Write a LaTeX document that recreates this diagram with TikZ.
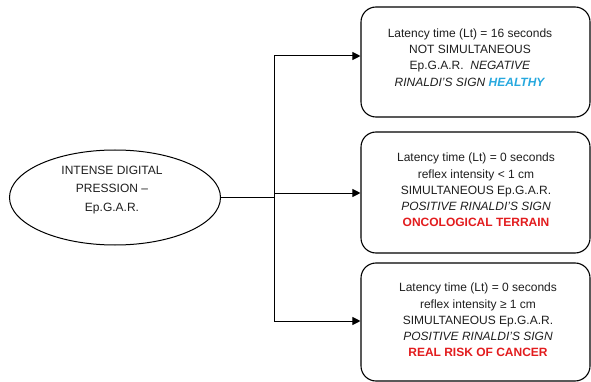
\documentclass[tikz,border=0pt]{standalone}
\usepackage{fontspec}
\setmainfont{Liberation Sans}
\usetikzlibrary{arrows.meta,shapes.geometric}
\definecolor{healthblue}{RGB}{38,168,222}
\definecolor{riskred}{RGB}{226,28,30}
\definecolor{txt}{RGB}{30,30,30}
\tikzset{
  stagebox/.style={draw=black,line width=1.1pt,rounded corners=15pt,minimum width=229pt,inner sep=0pt},
  boxtext/.style={align=center,text=txt,font=\fontsize{12}{16.2}\selectfont,inner sep=0pt},
  conn/.style={line width=1pt,draw=black},
  arr/.style={conn,-{Triangle[length=8pt,width=8pt]}}
}
\begin{document}
\begin{tikzpicture}[x=1pt,y=-1pt]
\useasboundingbox (0,0) rectangle (591,382);
\node[draw=black,line width=1pt,ellipse,minimum width=211pt,minimum height=95pt,inner sep=0pt] (ell) at (115,197.5) {};
\node[boxtext,font=\fontsize{12}{18.3}\selectfont] (elltext) at (112,190) {INTENSE DIGITAL\\PRESSION --\\Ep.G.A.R.};

\node[stagebox,minimum height=110pt] (b1) at (475.5,62) {};
\node[stagebox,minimum height=121pt] (b2) at (475.5,192.5) {};
\node[stagebox,minimum height=118pt] (b3) at (475.5,322) {};

\node[boxtext] (t1) at (470,57.5) {Latency time (Lt) = 16 seconds\\NOT SIMULTANEOUS\\Ep.G.A.R.\ \ \textit{NEGATIVE}\\\textit{RINALDI'S SIGN} \textcolor{healthblue}{\textbf{\textit{HEALTHY}}}};
\node[boxtext] (t2) at (476,190) {Latency time (Lt) = 0 seconds\\reflex intensity < 1 cm\\SIMULTANEOUS Ep.G.A.R.\\\textit{POSITIVE RINALDI'S SIGN}\\\textcolor{riskred}{\textbf{ONCOLOGICAL TERRAIN}}};
\node[boxtext] (t3) at (478,320) {Latency time (Lt) = 0 seconds\\reflex intensity ≥ 1 cm\\SIMULTANEOUS Ep.G.A.R.\\\textit{POSITIVE RINALDI'S SIGN}\\\textcolor{riskred}{\textbf{REAL RISK OF CANCER}}};

\coordinate (j) at (274,197.5);
\coordinate (j1) at (274,56);
\coordinate (j2) at (274,193);
\coordinate (j3) at (274,321);
\draw[conn] (ell.east) -- (j);
\draw[conn] (j1) -- (j3);
\draw[arr] (j1) -- (j1 -| b1.west);
\draw[arr] (j2) -- (j2 -| b2.west);
\draw[arr] (j3) -- (j3 -| b3.west);
\end{tikzpicture}
\end{document}
